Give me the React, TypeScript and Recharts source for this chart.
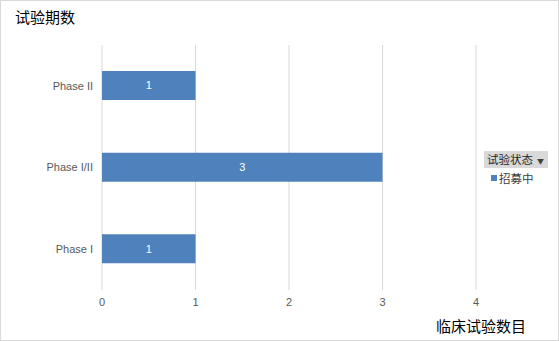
import React from "react";
import { BarChart, Bar, XAxis, YAxis, CartesianGrid, LabelList } from "recharts";

const phases = ["Phase II", "Phase I/II", "Phase I"];
const recruiting = [1, 3, 1];
const xTicks = [0, 1, 2, 3, 4];
const seriesName = "招募中";
const legendTitle = "试验状态";
const chartTitle = "试验期数";
const xTitle = "临床试验数目";

const data = phases.map((p, i) => ({ phase: p, value: recruiting[i] }));

const FONT = "'Liberation Sans', 'Noto Sans CJK SC', sans-serif";
const CJK = "'Noto Sans CJK SC', sans-serif";

export default function App() {
  return (
    <div style={{ position: "absolute", left: 0, top: 0, width: 559, height: 341, background: "#fff" }}>
      <BarChart
        width={559}
        height={341}
        data={data}
        layout="vertical"
        margin={{ top: 45, right: 83, bottom: 21, left: 0 }}
      >
        <CartesianGrid horizontal={false} vertical={true} stroke="#d9d9d9" />
        <XAxis
          type="number"
          domain={[0, 4]}
          ticks={xTicks}
          axisLine={false}
          tickLine={false}
          tickSize={0}
          tickMargin={8}
          height={30}
          tick={{ fill: "#595959", fontSize: 11, fontFamily: FONT }}
        />
        <YAxis
          type="category"
          dataKey="phase"
          width={102}
          axisLine={false}
          tickLine={false}
          tickSize={0}
          tickMargin={9}
          tick={{ fill: "#595959", fontSize: 11, fontFamily: FONT }}
        />
        <Bar dataKey="value" name={seriesName} fill="#4f81bd" barSize={29} isAnimationActive={false}>
          <LabelList dataKey="value" position="center" fill="#ffffff" fontSize={11} fontFamily={FONT} />
        </Bar>
      </BarChart>
      <div
        style={{
          position: "absolute",
          left: 484,
          top: 151,
          fontFamily: CJK,
          fontSize: 11.5,
          color: "#262626",
        }}
      >
        <div
          style={{
            background: "#d9d9d9",
            width: 64,
            height: 17,
            lineHeight: "17px",
            paddingLeft: 3,
            boxSizing: "border-box",
            whiteSpace: "nowrap",
          }}
        >
          {legendTitle}
          <span style={{ fontSize: 7, marginLeft: 4, color: "#404040" }}>▼</span>
        </div>
        <div style={{ display: "flex", alignItems: "center", marginTop: 2, marginLeft: 7, color: "#404040" }}>
          <span style={{ width: 6, height: 6, background: "#4f81bd", display: "inline-block", marginRight: 2 }} />
          <span>{seriesName}</span>
        </div>
      </div>
      <div
        style={{
          position: "absolute",
          left: 15,
          top: 7,
          fontFamily: CJK,
          fontSize: 15,
          color: "#000",
          lineHeight: "20px",
        }}
      >
        {chartTitle}
      </div>
      <div
        style={{
          position: "absolute",
          left: 436,
          top: 316,
          fontFamily: CJK,
          fontSize: 15,
          color: "#000",
          lineHeight: "20px",
        }}
      >
        {xTitle}
      </div>
      <div
        style={{
          position: "absolute",
          left: 0,
          top: 0,
          width: 559,
          height: 341,
          border: "1px solid #d9d9d9",
          boxSizing: "border-box",
          pointerEvents: "none",
        }}
      />
    </div>
  );
}
